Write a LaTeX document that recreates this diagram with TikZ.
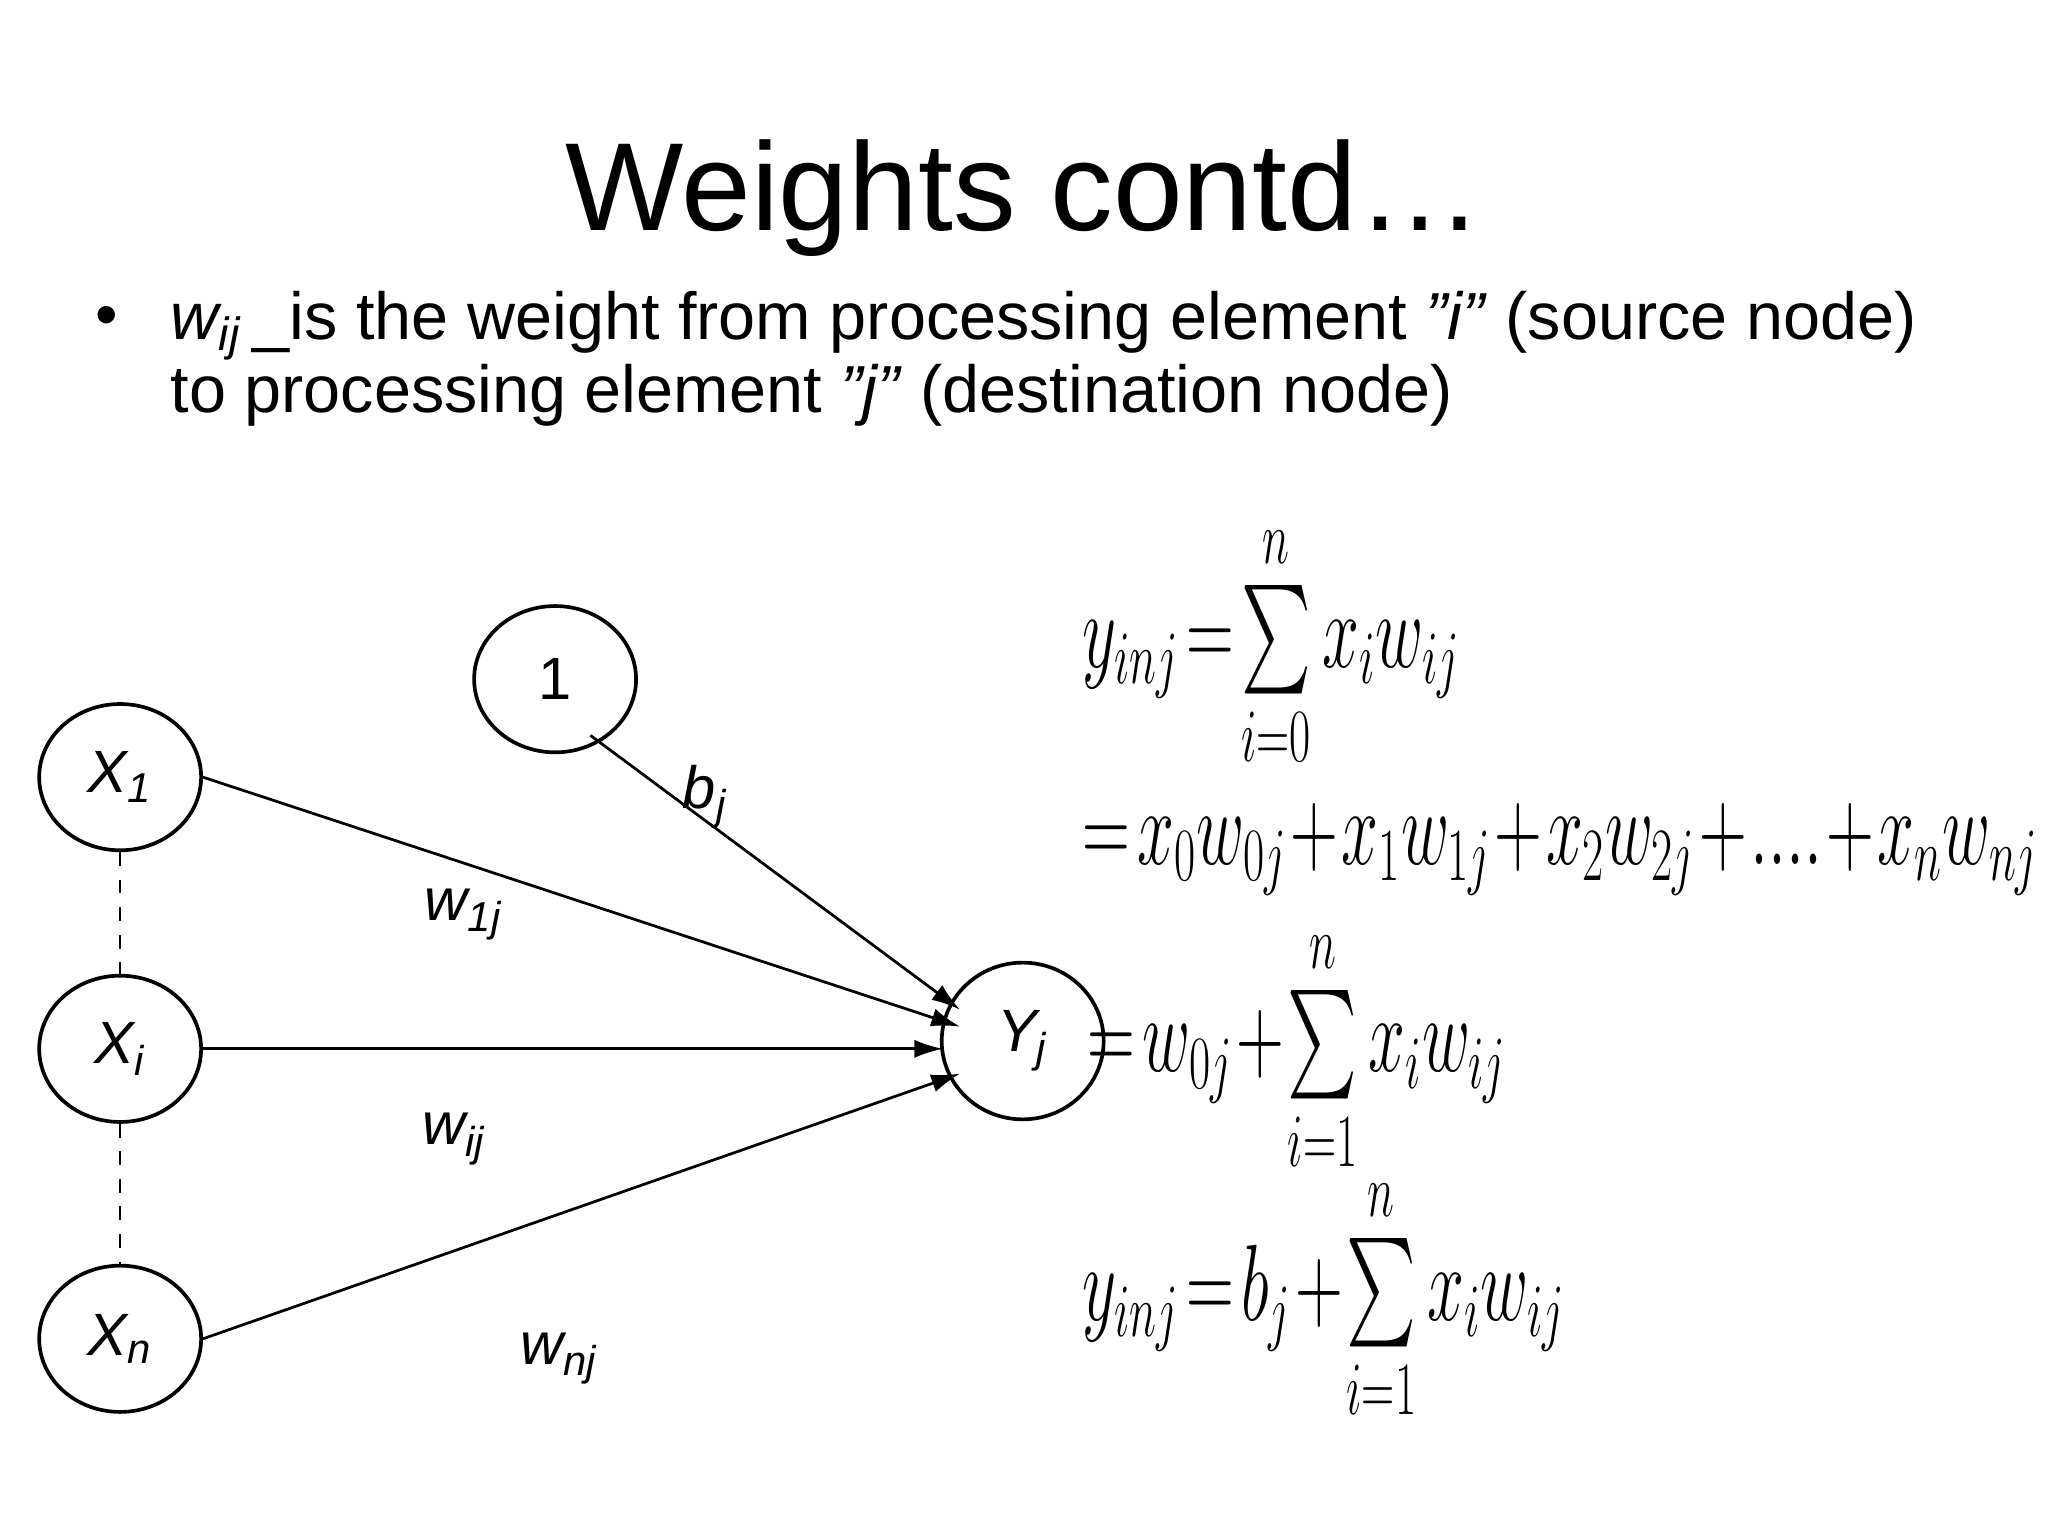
\documentclass[tikz,border=0pt]{standalone}
\usepackage{fontspec}
\usepackage{amsmath}
\usepackage{graphicx}
\setmainfont{Liberation Sans}
\usetikzlibrary{shapes.geometric,arrows.meta}
\newcommand{\eqbox}[1]{\scalebox{0.58}[0.95]{$#1$}}
\begin{document}
\begin{tikzpicture}[x=0.1mm,y=-0.1mm,
  neuron/.style={ellipse,draw,thick,minimum width=12.4mm,minimum height=11.2mm,inner sep=0pt,font=\fontsize{13}{15}\selectfont},
  conn/.style={-{Latex[length=2.2mm,width=1.4mm]},line width=0.6pt},
  wl/.style={font=\fontsize{13}{15}\selectfont\itshape},
  eq/.style={anchor=west,inner sep=0pt,font=\fontsize{26}{30}\selectfont}]
\useasboundingbox (0,0) rectangle (1568,1176);
\node (title) at (784,152) {\fontsize{27.3}{32}\selectfont Weights contd\ldots};
\node[anchor=north west,inner sep=0pt,align=left,font=\fontsize{14.5}{17}\selectfont] (bul) at (130,222)
 {\textit{w\textsubscript{ij}}\,\_is the weight from processing element \textit{"i"} (source node)\\[-1pt]to processing element \textit{"j"} (destination node)};
\node[font=\fontsize{14}{17}\selectfont] (dot) at (82,246) {\textbullet};
\node[neuron] (one) at (425,520) {1};
\node[neuron] (x1) at (92,595) {\textit{X\textsubscript{1}}};
\node[neuron] (xi) at (92,803) {\textit{X\textsubscript{i}}};
\node[neuron] (xn) at (92,1025) {\textit{X\textsubscript{n}}};
\node[neuron,minimum height=12mm] (yj) at (783,797) {\textit{Y\textsubscript{j}}};
\coordinate (ya) at (735,773);
\coordinate (yb) at (735,786);
\coordinate (yc) at (722,803);
\coordinate (yd) at (735,822);
\coordinate (oa) at (452,563);
\draw[conn] (oa) -- (ya);
\draw[conn] (x1.east) -- (yb);
\draw[conn] (xi.east) -- (yc);
\draw[conn] (xn.east) -- (yd);
\draw[dashed] (x1.south) -- (xi.north);
\draw[dashed] (xi.south) -- (xn.north);
\node[wl] (lb) at (540,610) {b\textsubscript{j}};
\node[wl] (l1) at (355,700) {w\textsubscript{1j}};
\node[wl] (li) at (348,872) {w\textsubscript{ij}};
\node[wl] (ln) at (428,1040) {w\textsubscript{nj}};
\node[eq] (e1) at (828,495) {\eqbox{y_{inj}\!=\!\sum\limits_{i=0}^{n}x_iw_{ij}}};
\node[eq] (e2) at (828,650) {\eqbox{=\!x_0w_{0j}\!+\!x_1w_{1j}\!+\!x_2w_{2j}\!+\!....\!+\!x_nw_{nj}}};
\node[eq] (e3) at (832,805) {\eqbox{=\!w_{0j}\!+\!\sum\limits_{i=1}^{n}x_iw_{ij}}};
\node[eq] (e4) at (828,995) {\eqbox{y_{inj}\!=\!b_j\!+\!\sum\limits_{i=1}^{n}x_iw_{ij}}};
\end{tikzpicture}
\end{document}
